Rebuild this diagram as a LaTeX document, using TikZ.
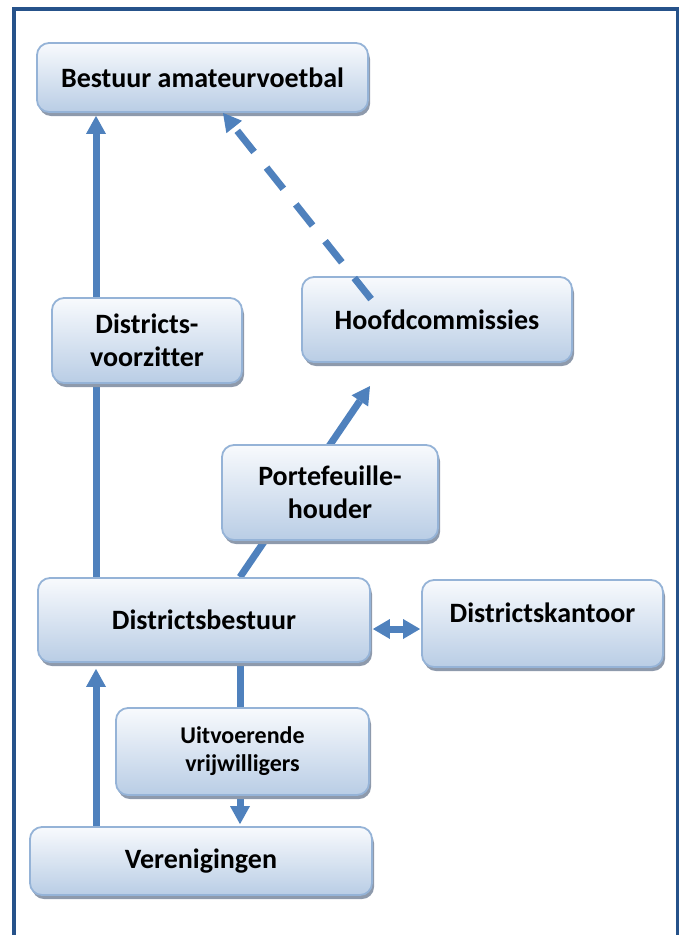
\documentclass[tikz,border=0pt]{standalone}
\usepackage{fontspec}
\setmainfont[Ligatures=NoCommon]{Carlito}
\usetikzlibrary{arrows.meta,shadows,calc}
\definecolor{frameblue}{RGB}{38,82,138}
\definecolor{linkblue}{RGB}{79,129,189}
\definecolor{boxedge}{RGB}{149,179,215}
\definecolor{boxtop}{RGB}{248,250,253}
\definecolor{boxlow}{RGB}{185,205,229}
\definecolor{shadowgray}{RGB}{142,154,172}
\pgfdeclarelayer{back}
\pgfsetlayers{back,main}
\begin{document}
\begin{tikzpicture}[x=1pt,y=-1pt,
  box/.style={draw=boxedge, line width=1.8pt, rounded corners=12pt,
    top color=boxtop, bottom color=boxlow,
    drop shadow={shadow xshift=2pt, shadow yshift=-4pt, fill=shadowgray, opacity=1},
    font=\fontsize{28}{33}\selectfont\bfseries, align=center, inner sep=0pt},
  smalltext/.style={font=\fontsize{24}{28}\selectfont\bfseries},
  conn/.style={draw=linkblue, line width=7pt, -{Triangle[width=20pt,length=18pt,line width=0pt]}},
  dashlink/.style={dash pattern=on 27pt off 20pt}
]
\useasboundingbox (0,0) rectangle (678,935);

% outer frame (open at the bottom)
\draw[frameblue, line width=4pt, line join=miter] (14,935) -- (14,9) -- (678,9) -- (678,935);

% boxes
\node[box, minimum width=331pt, minimum height=69pt] (bestuur) at (202.5,77.5) {Bestuur amateurvoetbal};
\node[box, minimum width=190pt, minimum height=85pt] (voorz) at (147,340.5) {Districts-\\voorzitter};
\node[box, minimum width=270pt, minimum height=85pt] (hoofd) at (437,319.5) {Hoofdcommissies};
\node[box, minimum width=216pt, minimum height=95pt] (porte) at (330,492.5) {Portefeuille-\\houder};
\node[box, minimum width=332pt, minimum height=84pt] (db) at (204,620) {Districtsbestuur};
\node[box, minimum width=241pt, minimum height=87pt, text depth=21pt] (kantoor) at (542.5,623.5) {Districtskantoor};
\node[box, smalltext, minimum width=253pt, minimum height=87pt] (uitv) at (242.5,751.5) {Uitvoerende\\vrijwilligers};
\node[box, minimum width=342pt, minimum height=68pt] (ver) at (201,861) {Verenigingen};

% reference points for the connectors
\coordinate (lx) at (96,0);
\coordinate (dx) at (240,0);
\coordinate (tx) at (223,0);
\coordinate (dy) at (0,629);
\coordinate (pt) at (370,386);
\coordinate (hin) at ([xshift=70pt,yshift=-23pt]hoofd.north west);

% connectors behind the boxes
\begin{pgfonlayer}{back}
  \draw[conn] (db.north -| lx) -- ([yshift=-3pt]bestuur.south -| lx);
  \draw[conn] (ver.north -| lx) -- ([yshift=-6pt]db.south -| lx);
  \draw[conn] (db.south -| dx) -- ([yshift=2pt]ver.north -| dx);
  \draw[conn] (db.north -| dx) -- (pt);
\end{pgfonlayer}

% dashed link drawn over the box it leaves
\draw[conn, dashlink] (hin) -- (bestuur.south -| tx);
\draw[draw=linkblue, line width=7pt, {Triangle[width=20pt,length=17pt,line width=0pt]}-{Triangle[width=20pt,length=17pt,line width=0pt]}]
  ([xshift=2pt]db.east |- dy) -- ([xshift=-1pt]kantoor.west |- dy);
\end{tikzpicture}
\end{document}
